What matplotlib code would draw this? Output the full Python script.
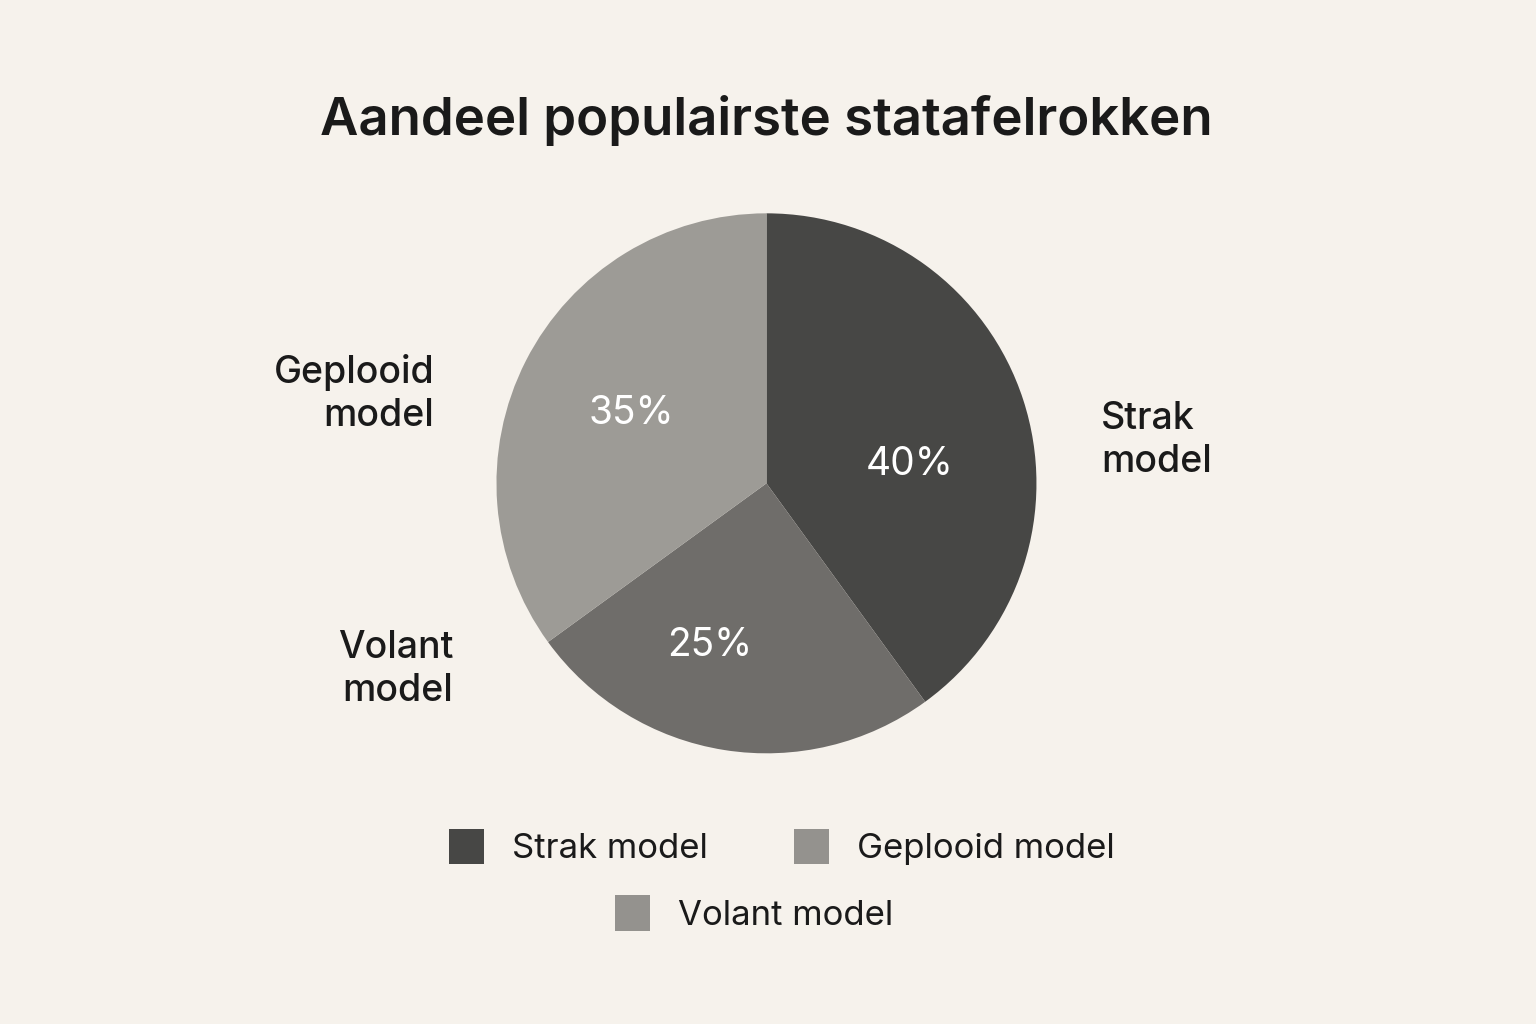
import matplotlib.pyplot as plt
from matplotlib.patches import Patch

labels = ["Strak model", "Volant model", "Geplooid model"]
shares = [40, 25, 35]
colors = ["#474745", "#6f6d6a", "#9d9b96"]
legend_colors = {"Strak model": "#474745", "Geplooid model": "#94928e", "Volant model": "#94928e"}
outer_labels = ["Strak\nmodel", "Volant\nmodel", "Geplooid\nmodel"]

bg = "#f6f2ec"
plt.rcParams['font.family'] = ['Inter', 'DejaVu Sans']

fig = plt.figure(figsize=(15.36, 10.24), dpi=100, facecolor=bg)
fig.text(0.499, 0.882, "Aandeel populairste statafelrokken", ha='center', va='center',
         fontsize=38, fontweight='semibold', color="#1a1a1a")

w, h = 540 / 1536, 540 / 1024
ax = fig.add_axes([0.499 - w / 2, 0.528 - h / 2, w, h])
ax.set_facecolor(bg)
wedges, texts, autos = ax.pie(shares, colors=colors, startangle=90, counterclock=False,
                              autopct='%d%%', textprops=dict(color='white', fontsize=28),
                              frame=False)
ax.set_xlim(-1, 1)
ax.set_ylim(-1, 1)
ax.set_aspect('equal')
ax.axis('off')

# inner percentage positions and outer labels
pct_pos = [(0.53, 0.07), (-0.21, -0.60), (-0.50, 0.26)]
for t, p in zip(autos, pct_pos):
    t.set_position(p)
out_pos = [(1.24, 0.16, 'left'), (-1.16, -0.69, 'right'), (-1.23, 0.33, 'right')]
for lab, (x, y, ha) in zip(outer_labels, out_pos):
    ax.text(x, y, lab, ha=ha, va='center', fontsize=27, color="#1a1a1a", linespacing=1.25,
            fontweight='medium')

leg_kw = dict(frameon=False, fontsize=25, handlelength=1.0, handleheight=1.2,
              handletextpad=0.8, columnspacing=2.5, labelcolor="#1a1a1a")
row1 = ["Strak model", "Geplooid model"]
fig.legend([Patch(facecolor=legend_colors[l]) for l in row1], row1, ncol=2,
           loc='center', bbox_to_anchor=(0.509, 0.173), **leg_kw)
fig.legend([Patch(facecolor=legend_colors["Volant model"])], ["Volant model"],
           loc='center', bbox_to_anchor=(0.491, 0.108), **leg_kw)

fig.savefig("out.png", facecolor=bg)
